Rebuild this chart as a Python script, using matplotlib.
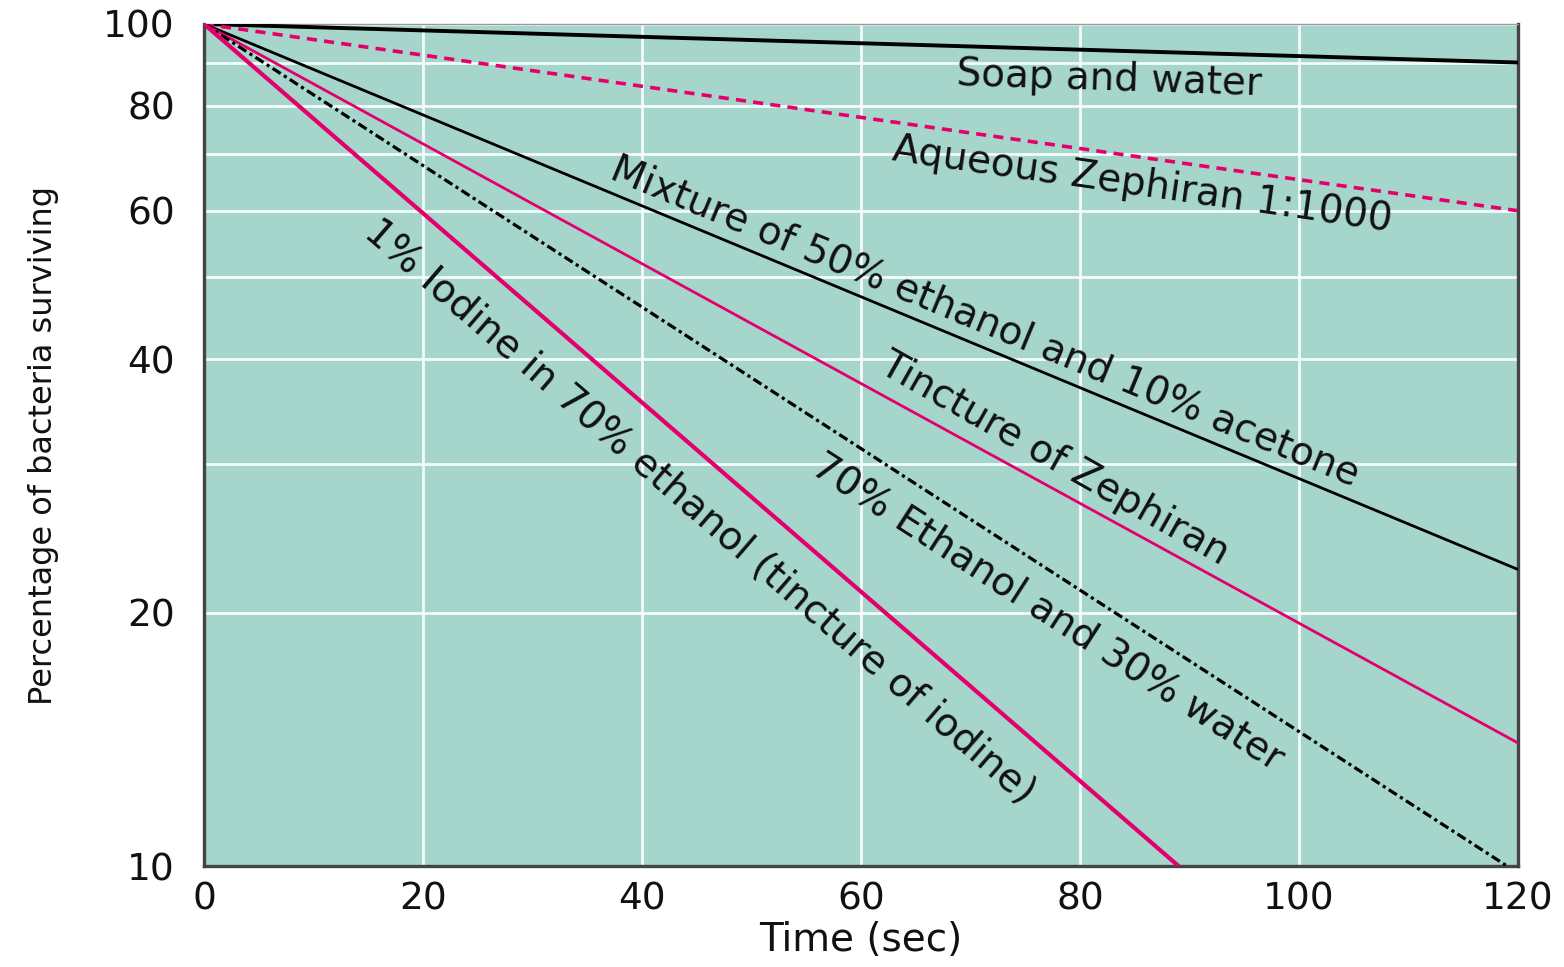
"""Survival of bacteria on skin after treatment with common antiseptics."""

import matplotlib

matplotlib.use("Agg")
import matplotlib.pyplot as plt

plt.rcParams["font.family"] = ["DejaVu Sans"]

BG = "#a6d5cb"
PINK = "#e4006c"

# ── Data (time in sec, percent surviving) ────────────────────────────────────
t_full = [0, 120]
soap = [100, 90]
aqueous_zeph = [100, 60]
mixture = [100, 22.5]
tincture_zeph = [100, 14]
t_ethanol = [0, 119]
ethanol = [100, 10]
t_iodine = [0, 89]
iodine = [100, 10]

x_ticks = [0, 20, 40, 60, 80, 100, 120]
y_ticks = [10, 20, 40, 60, 80, 100]
y_grid = [10, 20, 30, 40, 50, 60, 70, 80, 90, 100]

# label text, x, y, rotation
labels = [
    ("Soap and water", 82.7, 86.0, -1.9),
    ("Aqueous Zephiran 1:1000", 85.7, 64.4, -8.1),
    ("Mixture of 50% ethanol and 10% acetone", 71.3, 44.3, -22.5),
    ("Tincture of Zephiran", 77.7, 30.5, -29.5),
    ("70% Ethanol and 30% water", 77.1, 20.0, -32.8),
    ("1% Iodine in 70% ethanol (tincture of iodine)", 45.3, 26.3, -40.8),
]

fig = plt.figure(figsize=(15.64, 9.67), dpi=100)
ax = fig.add_axes([0.1304, 0.1044, 0.8402, 0.8708])
ax.set_facecolor(BG)
ax.set_yscale("log")
ax.set_xlim(0, 120)
ax.set_ylim(10, 100)

for v in y_grid:
    ax.axhline(v, color="#f2fbf8", lw=2.0, zorder=1)
for v in x_ticks[1:-1]:
    ax.axvline(v, color="#f2fbf8", lw=2.0, zorder=1)

ax.plot(t_full, soap, color="black", lw=2.8, zorder=3)
ax.plot(t_full, aqueous_zeph, color=PINK, lw=2.6, dashes=(2.8, 2.0), zorder=3)
ax.plot(t_full, mixture, color="black", lw=2.0, zorder=3)
ax.plot(t_full, tincture_zeph, color=PINK, lw=2.0, zorder=3)
ax.plot(t_ethanol, ethanol, color="black", lw=2.3, dashes=(3.0, 1.2, 1.0, 1.2), zorder=3)
ax.plot(t_iodine, iodine, color=PINK, lw=3.0, zorder=3)

for text, x, y, rot in labels:
    ax.text(x, y, text, fontsize=28, rotation=rot, rotation_mode="anchor",
            ha="center", va="center", color="#111111", zorder=4)

ax.set_xticks(x_ticks)
ax.set_xticklabels([str(v) for v in x_ticks])
ax.set_yticks(y_ticks)
ax.set_yticklabels([str(v) for v in y_ticks])
ax.minorticks_off()
ax.tick_params(axis="both", length=0, labelsize=27, labelcolor="#111111")
ax.tick_params(axis="y", pad=21)
ax.tick_params(axis="x", pad=11)

ax.set_xlabel("Time (sec)", fontsize=28, labelpad=3, color="#111111")
ax.set_ylabel("Percentage of bacteria surviving", fontsize=23, labelpad=32,
              color="#111111")

for side in ["left", "bottom", "right"]:
    ax.spines[side].set_color("#444444")
    ax.spines[side].set_linewidth(2.4)
ax.spines["top"].set_color("#999999")
ax.spines["top"].set_linewidth(1.0)

fig.savefig("out.png", dpi=100)
